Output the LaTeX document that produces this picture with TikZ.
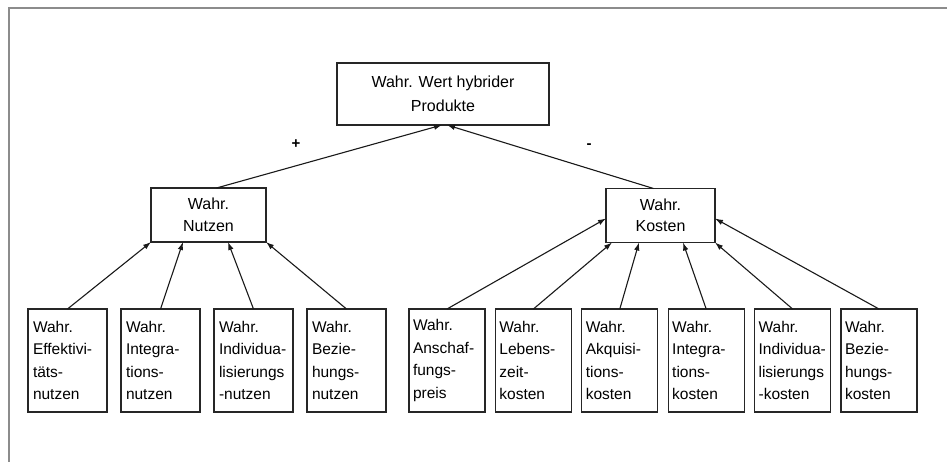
\documentclass[tikz,border=0pt]{standalone}
\usepackage{fontspec}
\setmainfont{Liberation Sans}
\usepackage{tikz}
\usetikzlibrary{positioning,arrows.meta}
\tikzset{
  wbox/.style  ={rectangle, draw=black!85, line width=1.1pt, fill=white,
                 inner sep=3pt, outer sep=0pt},
  topbox/.style={wbox, align=center, minimum width=212pt, minimum height=62pt,
                 font=\fontsize{16}{24}\selectfont},
  midbox/.style={wbox, align=center, minimum height=54pt,
                 font=\fontsize{16}{21.5}\selectfont},
  leafl/.style ={wbox, align=left, text width=69pt, inner xsep=5pt,
                 minimum height=103pt, font=\fontsize{15.5}{22.6}\selectfont},
  leafr/.style ={leafl, text width=68pt, inner xsep=4pt},
  arr/.style   ={-{Latex[length=8pt,width=5.5pt]}, line width=1.1pt, black!90},
  sign/.style  ={font=\fontsize{15}{15}\selectfont\bfseries, inner sep=1pt},
  frame/.style ={draw=black!45, line width=2pt},
}
\begin{document}
\begin{tikzpicture}[x=1pt, y=-1pt]
  \useasboundingbox (0,0) rectangle (947,462);
  % outer frame (top and left edge only)
  \coordinate (fbl) at (9,462);
  \coordinate (ftl) at (9,8);
  \coordinate (ftr) at (947,8);
  \draw[frame] (fbl) -- (ftl) -- (ftr);

  \node[topbox] (wert) at (443,94) {Wahr. Wert hybrider\\Produkte};
  \node[midbox, minimum width=115pt] (nutzen) at (208.5,215) {Wahr.\\Nutzen};
  \node[midbox, minimum width=109pt] (kosten) at (660.5,215.5) {Wahr.\\Kosten};
  \node[sign] (plus)  at (296,144) {+};
  \node[sign] (minus) at (589,146) {-};

  % benefit leaves
  \node[leafl, anchor=north west] (n1) at (28,309) {Wahr.\\Effektivi-\\täts-\\nutzen};
  \node[leafl, right=14pt of n1] (n2) {Wahr.\\Integra-\\tions-\\nutzen};
  \node[leafl, right=14pt of n2] (n3) {Wahr.\\Individua-\\lisierungs\\-nutzen};
  \node[leafl, right=14pt of n3] (n4) {Wahr.\\Bezie-\\hungs-\\nutzen};

  % cost leaves
  \node[leafr, anchor=north west] (k1) at (409,309) {Wahr.\\Anschaf-\\fungs-\\preis};
  \node[leafr, right=10.4pt of k1] (k2) {Wahr.\\Lebens-\\zeit-\\kosten};
  \node[leafr, right=10.4pt of k2] (k3) {Wahr.\\Akquisi-\\tions-\\kosten};
  \node[leafr, right=10.4pt of k3] (k4) {Wahr.\\Integra-\\tions-\\kosten};
  \node[leafr, right=10.4pt of k4] (k5) {Wahr.\\Individua-\\lisierungs\\-kosten};
  \node[leafr, right=10.4pt of k5] (k6) {Wahr.\\Bezie-\\hungs-\\kosten};

  \draw[arr] ([xshift=8pt]nutzen.north) -- ([xshift=-1pt]wert.south);
  \draw[arr] ([xshift=-7pt]kosten.north) -- ([xshift=4pt]wert.south);

  \draw[arr] (n1.north) -- (nutzen.south west);
  \draw[arr] (n2.north) -- ([xshift=32pt]nutzen.south west);
  \draw[arr] (n3.north) -- ([xshift=77pt]nutzen.south west);
  \draw[arr] (n4.north) -- (nutzen.south east);

  \draw[arr] (k1.north) -- ([yshift=-3pt]kosten.west);
  \draw[arr] (k2.north) -- ([xshift=6pt]kosten.south west);
  \draw[arr] (k3.north) -- ([xshift=33pt]kosten.south west);
  \draw[arr] (k4.north) -- ([xshift=77pt]kosten.south west);
  \draw[arr] (k5.north) -- (kosten.south east);
  \draw[arr] (k6.north) -- ([yshift=-3pt]kosten.east);
\end{tikzpicture}
\end{document}
